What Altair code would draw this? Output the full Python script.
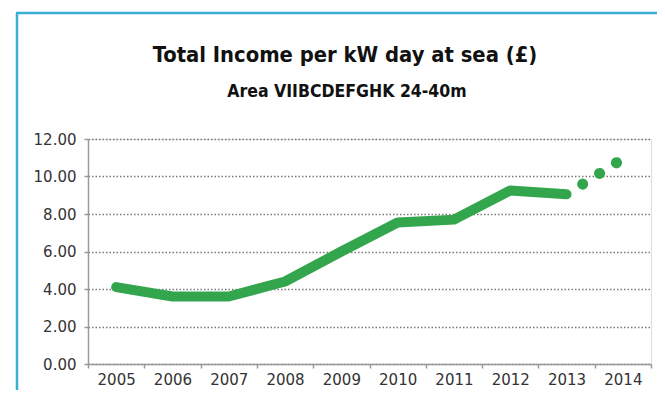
import altair as alt
import pandas as pd

years = ["2005", "2006", "2007", "2008", "2009", "2010", "2011", "2012", "2013", "2014"]
income = [4.1, 3.6, 3.6, 4.4, 6.0, 7.55, 7.7, 9.25, 9.05, 10.95]
title_text = "Total Income per kW day at sea (£)"
subtitle_text = "Area VIIBCDEFGHK 24-40m"

# solid (actual) part: 2005-2013; dotted (forecast) part: 2013-2014
actual = pd.DataFrame({"Year": years[:9], "Income": income[:9]})
forecast = pd.DataFrame({"Year": years[8:], "Income": income[8:]})

GREEN = "#33a64d"
FRAME = "#3aafd4"
LABEL_FONT = "DejaVu Sans"
TITLE_FONT = "Liberation Sans Narrow, DejaVu Sans Condensed, sans-serif"

x_enc = alt.X(
    "Year:O",
    sort=years,
    bandPosition=0.5,
    scale=alt.Scale(type="band", domain=years, paddingInner=0, paddingOuter=0),
    axis=alt.Axis(
        title=None, labelAngle=0, tickBand="extent", grid=False,
        domainColor="#9a9a9a", domainWidth=1.5, tickColor="#9a9a9a", tickWidth=1.5,
        tickSize=4, labelPadding=4, labelFont=LABEL_FONT, labelFontSize=15,
        labelColor="#333333",
    ),
)
y_enc = alt.Y(
    "Income:Q",
    scale=alt.Scale(domain=[0, 12], nice=False),
    axis=alt.Axis(
        title=None, values=[0, 2, 4, 6, 8, 10, 12], format=".2f",
        grid=True, gridColor="#7a7a7a", gridDash=[1.5, 2], gridWidth=1.5,
        domainColor="#9a9a9a", domainWidth=1.5, tickColor="#9a9a9a", tickWidth=1.5,
        tickSize=4, labelPadding=8, labelFont=LABEL_FONT, labelFontSize=15,
        labelColor="#333333",
    ),
)

solid = alt.Chart(actual).mark_line(
    color=GREEN, strokeWidth=10, strokeCap="round", strokeJoin="round"
).encode(x=x_enc, y=y_enc)

dotted = alt.Chart(forecast).mark_line(
    color=GREEN, strokeWidth=11, strokeCap="round", strokeDash=[0.1, 19.9], strokeDashOffset=1
).encode(x=x_enc, y=y_enc)

one = pd.DataFrame({"a": [0]})
frame_left = alt.Chart(one).mark_rule(color=FRAME, strokeWidth=2.5).encode(
    x=alt.value(-71), y=alt.value(-126), y2=alt.value(300)
)
frame_top = alt.Chart(one).mark_rule(color=FRAME, strokeWidth=2.5).encode(
    x=alt.value(-72), x2=alt.value(620), y=alt.value(-126)
)

title_mark = alt.Chart(pd.DataFrame({"t": [title_text]})).mark_text(
    font=TITLE_FONT, fontSize=21.8, fontWeight="bold", color="#111111",
    align="center", baseline="alphabetic",
).encode(text="t:N", x=alt.value(257), y=alt.value(-77))

subtitle_mark = alt.Chart(pd.DataFrame({"t": [subtitle_text]})).mark_text(
    font=TITLE_FONT, fontSize=17.5, fontWeight="bold", color="#111111",
    align="center", baseline="alphabetic",
).encode(text="t:N", x=alt.value(259), y=alt.value(-42))

chart = (
    alt.layer(frame_left, frame_top, title_mark, subtitle_mark, solid, dotted)
    .properties(
        width=563,
        height=225,
        padding={"left": 80, "top": 131, "right": 6, "bottom": 26},
        autosize=alt.AutoSizeParams(type="none"),
    )
    .configure_view(strokeWidth=0)
    .configure(background="white")
)

chart.save("out.html", embed_options={"renderer": "svg", "actions": False})
